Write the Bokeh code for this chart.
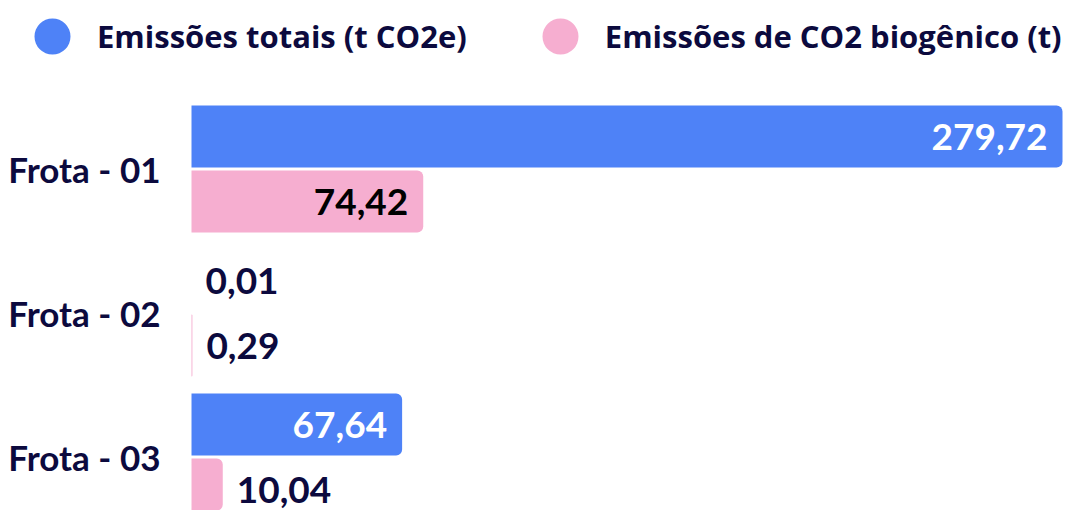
from bokeh.plotting import figure
from bokeh.models import ColumnDataSource, Range1d, Legend, LegendItem
from bokeh.core.properties import value
from bokeh.embed import file_html
from bokeh.resources import INLINE
import numpy as np

# ---- data ----
categories = ["Frota - 01", "Frota - 02", "Frota - 03"]
series_names = ["Emissões totais (t CO2e)", "Emissões de CO2 biogênico (t)"]
totais = [279.72, 0.01, 67.64]
biogenico = [74.42, 0.29, 10.04]

colors = ["#4E82F7", "#F6AED0"]
navy = "#0C0A3E"

n = len(categories)
ypos = [n - 1 - i for i in range(n)]  # first category on top

W, H = 1066, 510
bar_x0 = 191                       # canvas px where value 0 sits
px_per_unit = 871.0 / max(totais)  # longest bar spans 871 px
px_per_cat = 144.0
top_center = 168.5                 # canvas px of first category centre

p = figure(width=W, height=H, output_backend="svg", toolbar_location=None,
           x_range=Range1d(-bar_x0 / px_per_unit, (W - bar_x0) / px_per_unit),
           y_range=Range1d((n - 1) - (H - top_center) / px_per_cat,
                           (n - 1) + top_center / px_per_cat),
           min_border_left=0, min_border_right=0,
           min_border_top=0, min_border_bottom=0,
           outline_line_color=None, background_fill_color="white",
           border_fill_color="white")
p.xaxis.visible = False
p.yaxis.visible = False
p.grid.visible = False

bar_h = 62 / px_per_cat
off = 32.5 / px_per_cat

def fmt(v):
    return f"{v:.2f}".replace(".", ",")

for s, (vals, sign, col) in enumerate([(totais, +1, colors[0]), (biogenico, -1, colors[1])]):
    ys = [y + sign * off for y in ypos]
    src = ColumnDataSource(dict(y=ys, right=vals))
    p.hbar(y="y", left=0, right="right", height=bar_h, source=src,
           fill_color=col, line_color=None, border_radius=(0, 6, 6, 0))
    inside = [v * px_per_unit > 130 for v in vals]
    lab = ColumnDataSource(dict(
        x=vals, y=ys, text=[fmt(v) for v in vals],
        xo=[-15 if i else 14 for i in inside],
        align=["right" if i else "left" for i in inside],
        color=[("white" if s == 0 else "black") if i else navy for i in inside],
    ))
    p.text(x="x", y="y", text="text", x_offset="xo", text_align="align",
           text_color="color", text_baseline="middle", source=lab,
           text_font_size="37px", text_font_style="bold", text_font=value("Lato"))

# category labels
cat_src = ColumnDataSource(dict(x=[0] * n, y=ypos, text=categories))
p.text(x="x", y="y", text="text", source=cat_src, x_offset=-31,
       text_align="right", text_baseline="middle", text_color=navy,
       text_font_size="35px", text_font_style="bold", text_font=value("Lato"))

# legend with circle markers
items = []
for name, col in zip(series_names, colors):
    r = p.scatter(x=[np.nan], y=[np.nan], marker="circle", size=36,
                  fill_color=col, line_color=None)
    items.append(LegendItem(label=name, renderers=[r]))
legend = Legend(items=items, orientation="horizontal", location=(7, H - 90 + 9),
                glyph_width=90, glyph_height=90, label_standoff=0, spacing=48,
                padding=0, margin=0, border_line_color=None,
                background_fill_alpha=0, label_text_font="Open Sans",
                label_text_font_style="bold", label_text_font_size="31px",
                label_text_color=navy)
p.add_layout(legend, "center")

open("out.html", "w").write(file_html(p, INLINE))
